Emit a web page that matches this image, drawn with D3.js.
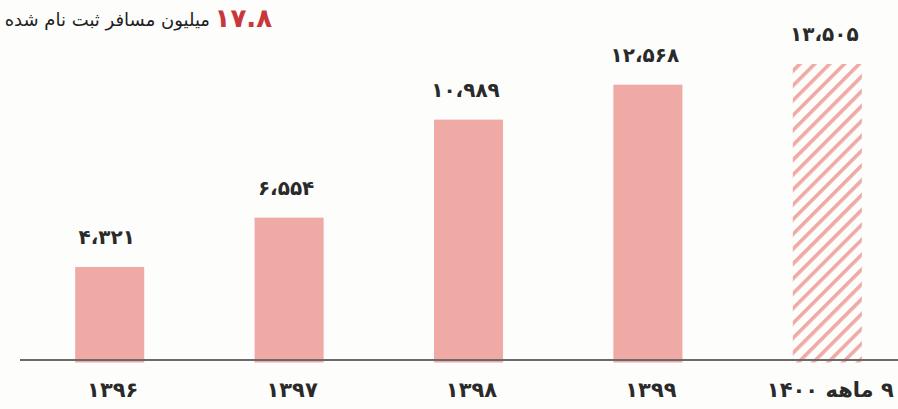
<!DOCTYPE html>
<html>
<head>
<meta charset="utf-8">
<script src="https://cdn.jsdelivr.net/npm/d3@7"></script>
<style>
  html, body { margin: 0; padding: 0; background: #fdfdfc; }
  svg { display: block; }
  .bar-label { font-family: "DejaVu Sans", sans-serif; font-weight: bold; font-size: 20px; fill: #2a2a2a; }
  .tick-label { font-family: "DejaVu Sans", sans-serif; font-weight: bold; font-size: 21px; fill: #2a2a2a; }
  .title { font-family: "DejaVu Sans", sans-serif; font-size: 18px; fill: #1e1e1e; }
  .title-num { font-family: "DejaVu Sans", sans-serif; font-weight: bold; font-size: 26px; fill: #c8373b; }
</style>
</head>
<body>
<svg id="chart" width="898" height="409"></svg>
<script>
// data
var years = ["۱۳۹۶", "۱۳۹۷", "۱۳۹۸", "۱۳۹۹", "۹ ماهه ۱۴۰۰"]
var passengers = [4321, 6554, 10989, 12568, 13505]  // thousand passengers
var partial = [false, false, false, false, true]    // last year only 9 months
var totalNum = "۱۷.۸"
var totalText = "میلیون مسافر ثبت نام شده"

var width = 898, height = 409
var baseline = 360
var barColor = "#f0aaa6"

// persian digits + arabic comma separator
var faDigits = "۰۱۲۳۴۵۶۷۸۹"
function toFa(n) {
  return d3.format(",")(n).replace(/,/g, "،").replace(/\d/g, function (c) { return faDigits[+c] })
}

var svg = d3.select("#chart")

var defs = svg.append("defs")
var pattern = defs.append("pattern")
  .attr("id", "hatch")
  .attr("patternUnits", "userSpaceOnUse")
  .attr("width", 10.5)
  .attr("height", 10.5)
  .attr("patternTransform", "rotate(45)")
pattern.append("rect")
  .attr("x", 0).attr("y", 0)
  .attr("width", 3.6).attr("height", 10.5)
  .attr("fill", barColor)

var items = years.map(function (y, i) {
  return { year: y, value: passengers[i], partial: partial[i] }
})

// scales
var x = d3.scaleBand()
  .domain(years)
  .range([20, 917])
  .paddingInner(0.615)
  .paddingOuter(0.3075)

var y = d3.scaleLinear()
  .domain([0, d3.max(passengers)])
  .range([362.5, 64])

// bars
svg.append("g").selectAll("rect")
  .data(items).enter()
  .append("rect")
  .attr("x", function (d) { return x(d.year) })
  .attr("y", function (d) { return y(d.value) })
  .attr("width", x.bandwidth())
  .attr("height", function (d) { return y(0) - y(d.value) })
  .attr("fill", function (d) { return d.partial ? "url(#hatch)" : barColor })

// value labels
svg.append("g").selectAll("text")
  .data(items).enter()
  .append("text")
  .attr("class", "bar-label")
  .attr("x", function (d) { return x(d.year) + x.bandwidth() / 2 - 3 })
  .attr("y", function (d) { return y(d.value) - 23 })
  .attr("text-anchor", "middle")
  .text(function (d) { return toFa(d.value) })

// baseline axis
var xAxis = d3.axisBottom(x).tickSize(0).tickPadding(22)
var axisG = svg.append("g")
  .attr("transform", "translate(0," + baseline + ")")
  .call(xAxis)
axisG.select(".domain").remove()
axisG.append("line")
  .attr("x1", 20).attr("x2", width)
  .attr("y1", 0).attr("y2", 0)
  .attr("stroke", "#6a6a6a")
  .attr("stroke-width", 2)
axisG.selectAll(".tick text")
  .attr("class", "tick-label")
  .attr("font-family", null)
  .attr("font-size", null)
  .attr("fill", null)
  .attr("direction", "rtl")
  .attr("dx", 3)

// title (number on the right, text to its left)
svg.append("text")
  .attr("class", "title-num")
  .attr("x", 272)
  .attr("y", 27)
  .attr("text-anchor", "end")
  .text(totalNum)
svg.append("text")
  .attr("class", "title")
  .attr("x", 210)
  .attr("y", 26)
  .attr("text-anchor", "end")
  .text(totalText)
</script>
</body>
</html>
